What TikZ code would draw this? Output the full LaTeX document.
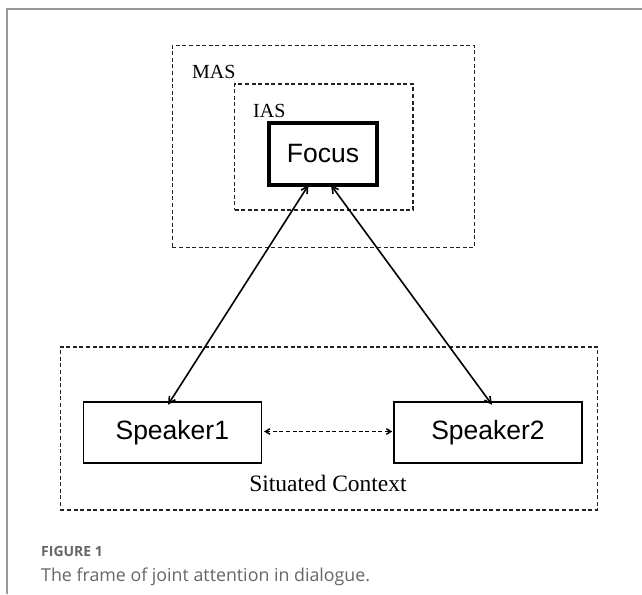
\documentclass[tikz,border=0pt]{standalone}
\usepackage{fontspec}
\setmainfont{Liberation Serif}
\newfontfamily\arialf{Liberation Sans}
\newfontfamily\capf{Open Sans}
\usetikzlibrary{arrows.meta}
\definecolor{framegray}{HTML}{9A9A9A}
\definecolor{capgray}{HTML}{666666}
\definecolor{dashgray}{HTML}{222222}
\tikzset{
  dashbox/.style={draw=dashgray, line width=1.6pt, dash pattern=on 4pt off 2.6pt, inner sep=0pt},
  spkbox/.style={draw=black, line width=1.5pt, inner sep=0pt, minimum height=61pt,
    font=\arialf\fontsize{26.5}{30}\selectfont},
  focusbox/.style={draw=black, line width=4.2pt, inner sep=0pt, minimum width=108pt, minimum height=62pt,
    font=\arialf\fontsize{26.5}{30}\selectfont},
  serlabel/.style={inner sep=0pt, font=\fontsize{20}{22}\selectfont},
  conn/.style={line width=1.6pt, {Straight Barb[length=6.5pt,width=7pt]}-{Straight Barb[length=6.5pt,width=7pt]}},
  dconn/.style={line width=1.5pt, dash pattern=on 4pt off 2.6pt, {Straight Barb[length=4.5pt,width=5.5pt]}-{Straight Barb[length=4.5pt,width=5.5pt]}},
}
\begin{document}
\begin{tikzpicture}[x=1pt,y=-1pt]
\useasboundingbox (0,0) rectangle (642,594);
\draw[framegray, line width=2pt] (7.3,594) -- (7.3,9.3) -- (642,9.3);
% dashed frames
\node[dashbox, minimum width=302pt, minimum height=202pt] (mas) at (323.3,146.4) {};
\node[dashbox, minimum width=178.4pt, minimum height=126.2pt] (ias) at (323.8,146.9) {};
\node[dashbox, minimum width=537.2pt, minimum height=163pt] (ctx) at (328.9,428.2) {};
\node[serlabel, anchor=west] (maslbl) at (192,72) {MAS};
\node[serlabel, anchor=west] (iaslbl) at (253,111) {IAS};
\node[serlabel, font=\fontsize{23.5}{26}\selectfont] (ctxlbl) at (328,483) {Situated Context};
% boxes
\node[focusbox] (focus) at (323,154) {Focus};
\node[spkbox, minimum width=178pt] (s1) at (172.3,432.5) {Speaker1};
\node[spkbox, minimum width=188pt] (s2) at (488,432.5) {Speaker2};
% connectors
\draw[conn] ([xshift=-14.5pt,yshift=2pt]focus.south) -- ([xshift=-4.3pt,yshift=-3.5pt]s1.north);
\draw[conn] ([xshift=8pt,yshift=2pt]focus.south) -- ([xshift=4pt,yshift=-3.5pt]s2.north);
\draw[dconn] ([xshift=2pt,yshift=1pt]s1.east) -- ([xshift=-1pt,yshift=1pt]s2.west);
% caption
\node[anchor=base west, inner sep=0pt, text=capgray, font=\capf\bfseries\fontsize{14}{16}\selectfont] (figlbl) at (41,556) {FIGURE 1};
\node[anchor=base west, inner sep=0pt, text=capgray, font=\capf\fontsize{17.8}{20}\selectfont] (caption) at (41,581) {The frame of joint attention in dialogue.};
\end{tikzpicture}
\end{document}
